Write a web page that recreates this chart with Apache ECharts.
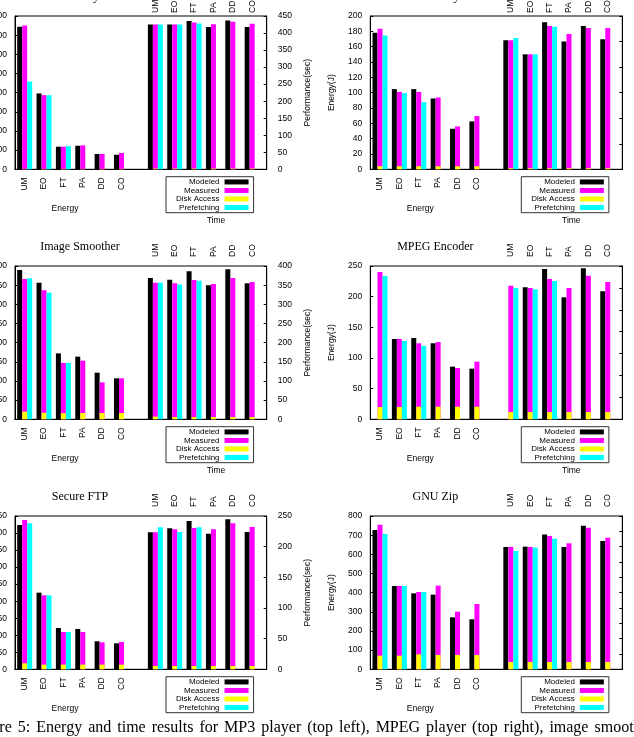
<!DOCTYPE html>
<html>
<head>
<meta charset="utf-8">
<script src="https://cdn.jsdelivr.net/npm/echarts@6/dist/echarts.min.js"></script>
<style>
  html, body { margin: 0; padding: 0; background: #fff; }
  body { width: 634px; height: 737px; position: relative; overflow: hidden; }
  .panel { position: absolute; width: 317px; height: 250px; }
  #caption { position: absolute; left: -30px; top: 718px; font: 16px 'Liberation Serif', 'Times New Roman', serif; word-spacing: 2px; white-space: nowrap; color: #000; }
</style>
</head>
<body>
<div id="mp3" class="panel" style="left:0;top:-10px"></div>
<div id="mpegPlay" class="panel" style="left:317px;top:-10px"></div>
<div id="smooth" class="panel" style="left:0;top:240px"></div>
<div id="mpegEnc" class="panel" style="left:317px;top:240px"></div>
<div id="sftp" class="panel" style="left:0;top:490px"></div>
<div id="gzip" class="panel" style="left:317px;top:490px"></div>
<div id="caption">Figure 5: Energy and time results for MP3 player (top left), MPEG player (top right), image smoother (middle left)</div>
<script>
const cats = ['UM', 'EO', 'FT', 'PA', 'DD', 'CO'];

// MP3 Player
const mp3EnModeled = [744, 396, 118, 123, 80, 76];
const mp3EnMeasured = [751, 387, 118, 125, 80, 85];
const mp3EnPrefetch = [458, 387, 121, null, null, null];
const mp3EnDisk = [2, 2, 2, 2, 2, 2];
const mp3TimeModeled = [425, 425, 435, 418, 437, 418];
const mp3TimeMeasured = [425, 425, 431, 426, 433, 427];
const mp3TimePrefetch = [425, 425, 428, null, null, null];
const mp3TimeDisk = [2, 2, 2, 2, 2, 2];

// MPEG Player
const mpegPlayEnModeled = [178, 104.6, 104.6, 92.4, 52.9, 62.5];
const mpegPlayEnMeasured = [183.5, 101, 101, 93.7, 56, 69.4];
const mpegPlayEnPrefetch = [174.4, 99.3, 87.6, null, null, null];
const mpegPlayEnDisk = [4, 4, 4, 4, 4, 4];
const mpegPlayTimeModeled = [252.5, 225, 287.6, 250, 280.5, 254.4];
const mpegPlayTimeMeasured = [252.5, 225, 280.5, 265, 276.6, 276.6];
const mpegPlayTimePrefetch = [257, 225, 279, null, null, null];
const mpegPlayTimeDisk = [2, 2, 2, 2, 2, 2];

// Image Smoother
const smoothEnModeled = [389.6, 356.5, 172, 163.5, 121.7, 107];
const smoothEnMeasured = [366, 336.5, 147, 153, 96.5, 107];
const smoothEnPrefetch = [367.8, 330.4, 147, null, null, null];
const smoothEnDisk = [20, 17, 16, 16.5, 16.5, 16.5];
const smoothTimeModeled = [368.7, 364.3, 386, 349.6, 391.3, 354.8];
const smoothTimeMeasured = [356.5, 354.8, 363.5, 353, 368.7, 358.3];
const smoothTimePrefetch = [356.5, 352, 361.7, null, null, null];
const smoothTimeDisk = [7, 6, 6, 6, 6, 6];

// MPEG Encoder
const mpegEncEnModeled = [null, 131, 132.6, 124, 85.9, 82.6];
const mpegEncEnMeasured = [240.2, 131, 124, 126, 83.7, 94];
const mpegEncEnPrefetch = [233.7, 127.7, 119.6, null, null, null];
const mpegEncEnDisk = [20, 20, 20.5, 20.5, 20.5, 20.5];
const mpegEncTimeModeled = [null, 301.3, 343.2, 278.5, 344.7, 292.2];
const mpegEncTimeMeasured = [305, 299.8, 320.3, 299.8, 328, 313.5];
const mpegEncTimePrefetch = [299.8, 296.7, 315.8, null, null, null];
const mpegEncTimeDisk = [16.5, 16.5, 16.5, 16.5, 16.5, 16.5];

// Secure FTP
const sftpEnModeled = [423.6, 225, 121.3, 118.4, 82.2, 76.3];
const sftpEnMeasured = [438.3, 217.2, 109.6, 109.6, 79.2, 80.2];
const sftpEnPrefetch = [428.5, 217.2, 109.6, null, null, null];
const sftpEnDisk = [17.6, 13.7, 13.7, 13.7, 13.7, 13.7];
const sftpTimeModeled = [223.4, 229.9, 241.8, 221.2, 244.6, 223.9];
const sftpTimeMeasured = [223.4, 228.3, 230.4, 228.3, 238, 232];
const sftpTimePrefetch = [231.5, 223.9, 231.5, null, null, null];
const sftpTimeDisk = [5.4, 5.4, 5.4, 5.4, 5.4, 5.4];

// GNU Zip
const gzipEnModeled = [727, 434.8, 396.5, 389.6, 271.3, 260.9];
const gzipEnMeasured = [754.8, 434.8, 403.5, 436.5, 300.9, 340.9];
const gzipEnPrefetch = [706, 434.8, 403.5, null, null, null];
const gzipEnDisk = [71, 71, 78, 75, 75, 75];
const gzipTimeModeled = [399, 400, 440, 399, 468.5, 418.5];
const gzipTimeMeasured = [399, 399, 434.8, 410.9, 462, 429.3];
const gzipTimePrefetch = [385.9, 396.7, 426, null, null, null];
const gzipTimeDisk = [24, 24, 24, 24, 24, 24];

const SANS = "'Liberation Sans', Arial, sans-serif";
const SERIF = "'Liberation Serif', 'Times New Roman', serif";
const COLORS = { Modeled: '#000000', Measured: '#ff00ff', 'Disk Access': '#ffff00', Prefetching: '#00ffff' };

// energy group on the bottom axis (13 slots), time group on a finer top axis
const TOP_SLOTS = 53, TOP_START = 29, TOP_STEP = 4;
const bottomSlots = cats.concat(Array(7).fill(''));
const topSlots = Array.from({ length: TOP_SLOTS }, (_, i) =>
  i >= TOP_START && (i - TOP_START) % TOP_STEP === 0 ? cats[(i - TOP_START) / TOP_STEP] : '');
const toBottom = (vals) => vals.concat(Array(7).fill(null));
const toTop = (vals) => topSlots.map((c, i) => (c === '' ? null : vals[(i - TOP_START) / TOP_STEP]));

const bar = (name, data, xi, yi) => ({
  type: 'bar', name, data, xAxisIndex: xi, yAxisIndex: yi,
  barWidth: 5, barGap: '0%', itemStyle: { color: COLORS[name] }, silent: true,
});

const hiddenX = (data, gap) => ({ type: 'category', data, boundaryGap: gap, show: false });

const drawPanel = (domElement, p) => {
  const chart = echarts.init(domElement, null, { renderer: 'canvas' });
  const plotLeft = p.leftCol ? 15 : 53.3;
  const plotRight = p.leftCol ? 50.3 : 11.7;
  const tick = { show: true, inside: true, length: 3, lineStyle: { color: '#000' } };
  const line = { show: true, lineStyle: { color: '#000', width: 1 } };
  const label = { fontSize: 8.5, color: '#000', fontFamily: SANS };
  const graphic = [
    { type: 'text', x: plotLeft + 65, y: 7.3, style: { text: p.title, font: '12px ' + SERIF, fill: '#000', align: 'center', verticalAlign: 'middle' } },
    { type: 'text', x: plotLeft + 50, y: 218.3, style: { text: 'Energy', font: '8.5px ' + SANS, fill: '#000', align: 'center', verticalAlign: 'middle' } },
  ];
  if (p.timeLabel) {
    graphic.push({ type: 'text', x: plotLeft + 201, y: 230.7, style: { text: 'Time', font: '8.5px ' + SANS, fill: '#000', align: 'center', verticalAlign: 'middle' } });
  }
  const option = {
    animation: false,
    grid: {
      left: plotLeft, right: plotRight, top: 26, bottom: 70.7,
      show: true, borderColor: '#000', borderWidth: 1, containLabel: false, outerBoundsMode: 'none',
    },
    legend: {
      data: ['Modeled', 'Measured', 'Disk Access', 'Prefetching'],
      orient: 'vertical', align: 'right', left: plotLeft + 151, top: 186.7,
      itemWidth: 24, itemHeight: 5, itemGap: 0, icon: 'rect',
      padding: [1, 5, 1, 10], borderColor: '#333', borderWidth: 1,
      selectedMode: false,
      textStyle: { fontSize: 8, lineHeight: 8.5, color: '#000', fontFamily: SANS },
    },
    xAxis: [
      {
        type: 'category', data: bottomSlots, position: 'bottom', boundaryGap: true,
        axisLine: line,
        axisTick: { show: true, inside: true, length: 3, alignWithLabel: true, interval: (i) => i < cats.length, lineStyle: { color: '#000' } },
        axisLabel: { ...label, rotate: 90, interval: 0, margin: 8 },
        splitLine: { show: false },
      },
      {
        type: 'category', data: topSlots, position: 'top', boundaryGap: false,
        axisLine: line,
        axisTick: { show: true, length: 4, interval: (i, v) => v !== '', lineStyle: { color: '#000' } },
        axisLabel: { ...label, rotate: 90, interval: (i, v) => v !== '', margin: p.topMargin },
        splitLine: { show: false },
      },
      hiddenX(bottomSlots, true),
      hiddenX(topSlots, false),
    ],
    yAxis: [
      {
        type: 'value', position: 'left', min: 0, max: p.enMax, interval: p.enStep,
        name: 'Energy(J)', nameLocation: 'middle', nameGap: 34,
        nameTextStyle: { fontSize: 8.5, color: '#000', fontFamily: SANS },
        axisLine: line, axisTick: tick, axisLabel: { ...label, margin: 8 },
        splitLine: { show: false },
      },
      {
        type: 'value', position: 'right', min: 0, max: p.tMax, interval: p.tStep,
        name: p.leftCol ? 'Performance(sec)' : '', nameLocation: 'middle', nameGap: 34,
        nameTextStyle: { fontSize: 8.5, color: '#000', fontFamily: SANS },
        axisLine: line, axisTick: tick, axisLabel: { ...label, margin: 11, show: p.leftCol },
        splitLine: { show: false },
      },
    ],
    graphic,
    series: [
      bar('Modeled', toBottom(p.en[0]), 0, 0),
      bar('Measured', toBottom(p.en[1]), 0, 0),
      bar('Disk Access', toBottom(p.en[3]), 2, 0),
      bar('Prefetching', toBottom(p.en[2]), 0, 0),
      bar('Modeled', toTop(p.time[0]), 1, 1),
      bar('Measured', toTop(p.time[1]), 1, 1),
      bar('Disk Access', toTop(p.time[3]), 3, 1),
      bar('Prefetching', toTop(p.time[2]), 1, 1),
    ],
  };
  chart.setOption(option);
};

drawPanel(document.querySelector('#mp3'), {
  title: 'MP3 Player', leftCol: true, topMargin: 3, timeLabel: true,
  enMax: 800, enStep: 100, tMax: 450, tStep: 50,
  en: [mp3EnModeled, mp3EnMeasured, mp3EnPrefetch, mp3EnDisk],
  time: [mp3TimeModeled, mp3TimeMeasured, mp3TimePrefetch, mp3TimeDisk],
});
drawPanel(document.querySelector('#mpegPlay'), {
  title: 'MPEG Player', leftCol: false, topMargin: 3, timeLabel: true,
  enMax: 200, enStep: 20, tMax: 300, tStep: 50,
  en: [mpegPlayEnModeled, mpegPlayEnMeasured, mpegPlayEnPrefetch, mpegPlayEnDisk],
  time: [mpegPlayTimeModeled, mpegPlayTimeMeasured, mpegPlayTimePrefetch, mpegPlayTimeDisk],
});
drawPanel(document.querySelector('#smooth'), {
  title: 'Image Smoother', leftCol: true, topMargin: 9, timeLabel: true,
  enMax: 400, enStep: 50, tMax: 400, tStep: 50,
  en: [smoothEnModeled, smoothEnMeasured, smoothEnPrefetch, smoothEnDisk],
  time: [smoothTimeModeled, smoothTimeMeasured, smoothTimePrefetch, smoothTimeDisk],
});
drawPanel(document.querySelector('#mpegEnc'), {
  title: 'MPEG Encoder', leftCol: false, topMargin: 9, timeLabel: true,
  enMax: 250, enStep: 50, tMax: 350, tStep: 50,
  en: [mpegEncEnModeled, mpegEncEnMeasured, mpegEncEnPrefetch, mpegEncEnDisk],
  time: [mpegEncTimeModeled, mpegEncTimeMeasured, mpegEncTimePrefetch, mpegEncTimeDisk],
});
drawPanel(document.querySelector('#sftp'), {
  title: 'Secure FTP', leftCol: true, topMargin: 9, timeLabel: false,
  enMax: 450, enStep: 50, tMax: 250, tStep: 50,
  en: [sftpEnModeled, sftpEnMeasured, sftpEnPrefetch, sftpEnDisk],
  time: [sftpTimeModeled, sftpTimeMeasured, sftpTimePrefetch, sftpTimeDisk],
});
drawPanel(document.querySelector('#gzip'), {
  title: 'GNU Zip', leftCol: false, topMargin: 9, timeLabel: false,
  enMax: 800, enStep: 100, tMax: 500, tStep: 50,
  en: [gzipEnModeled, gzipEnMeasured, gzipEnPrefetch, gzipEnDisk],
  time: [gzipTimeModeled, gzipTimeMeasured, gzipTimePrefetch, gzipTimeDisk],
});
</script>
</body>
</html>
